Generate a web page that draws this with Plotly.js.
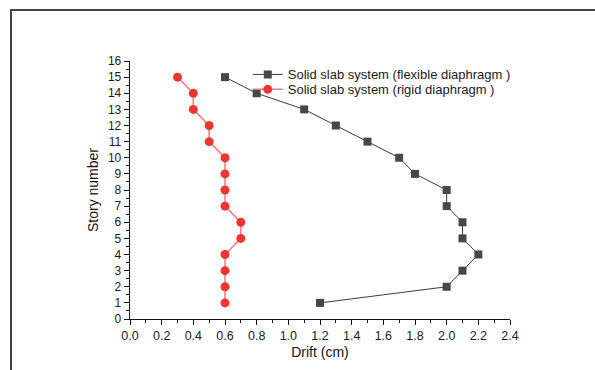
<!DOCTYPE html>
<html>
<head>
<meta charset="utf-8">
<script src="https://cdn.plot.ly/plotly-3.0.1.min.js"></script>
<style>
  html, body { margin: 0; padding: 0; background: #fff; }
  #wrap { position: relative; width: 595px; height: 370px; }
  #chart { width: 595px; height: 370px; }
  #frame { position: absolute; left: 10px; top: 9px; right: -5px; bottom: -5px;
           border-top: 2px solid #444; border-left: 2px solid #444; pointer-events: none; }
</style>
</head>
<body>
<div id="wrap">
  <div id="chart"></div>
  <div id="frame"></div>
</div>
<script>
const stories = [15, 14, 13, 12, 11, 10, 9, 8, 7, 6, 5, 4, 3, 2, 1];
const flexibleDrift = [0.6, 0.8, 1.1, 1.3, 1.5, 1.7, 1.8, 2.0, 2.0, 2.1, 2.1, 2.2, 2.1, 2.0, 1.2];
const rigidDrift = [0.3, 0.4, 0.4, 0.5, 0.5, 0.6, 0.6, 0.6, 0.6, 0.7, 0.7, 0.6, 0.6, 0.6, 0.6];
const seriesNames = ['Solid slab system (flexible diaphragm )', 'Solid slab system (rigid diaphragm )'];
const xTickVals = [0, 0.2, 0.4, 0.6, 0.8, 1.0, 1.2, 1.4, 1.6, 1.8, 2.0, 2.2, 2.4];
const xTickText = ['0.0', '0.2', '0.4', '0.6', '0.8', '1.0', '1.2', '1.4', '1.6', '1.8', '2.0', '2.2', '2.4'];
const yTickVals = [0, 1, 2, 3, 4, 5, 6, 7, 8, 9, 10, 11, 12, 13, 14, 15, 16];

const FONT = 'Liberation Sans, Arial, sans-serif';

const traces = [
  {
    x: flexibleDrift, y: stories, name: seriesNames[0], type: 'scatter', mode: 'lines+markers',
    line: { color: '#3a3a3a', width: 1 },
    marker: { symbol: 'square', size: 8, color: '#474747' },
    legend: 'legend'
  },
  {
    x: rigidDrift, y: stories, name: seriesNames[1], type: 'scatter', mode: 'lines+markers',
    line: { color: '#f07a7a', width: 1.5 },
    marker: { symbol: 'circle', size: 9, color: '#ee3535' },
    legend: 'legend2'
  }
];

const legendBase = {
  x: 0.31, xanchor: 'left', yanchor: 'top',
  bgcolor: 'rgba(0,0,0,0)', borderwidth: 0,
  font: { family: FONT, size: 13, color: '#1a1a1a' }
};

const layout = {
  width: 595, height: 370,
  margin: { l: 130, r: 85, t: 61, b: 51 },
  paper_bgcolor: '#fff', plot_bgcolor: '#fff',
  font: { family: FONT, color: '#1a1a1a', size: 12 },
  showlegend: true,
  legend: Object.assign({}, legendBase, { y: 1.006 }),
  legend2: Object.assign({}, legendBase, { y: 0.948 }),
  xaxis: {
    range: [0, 2.4], tickvals: xTickVals, ticktext: xTickText,
    showgrid: false, zeroline: false, showline: true, linecolor: '#111', linewidth: 1.3,
    ticks: 'outside', ticklen: 5, tickcolor: '#111', tickwidth: 1,
    minor: { dtick: 0.1, ticks: 'outside', ticklen: 3, tickcolor: '#111', showgrid: false },
    tickfont: { family: FONT, size: 12.5, color: '#1a1a1a' },
    title: { text: 'Drift (cm)', font: { family: FONT, size: 14, color: '#111' }, standoff: 5 }
  },
  yaxis: {
    range: [0, 16], tickvals: yTickVals,
    showgrid: false, zeroline: false, showline: true, linecolor: '#111', linewidth: 1.3,
    ticks: 'outside', ticklen: 5, tickcolor: '#111', tickwidth: 1,
    minor: { dtick: 0.5, ticks: 'outside', ticklen: 3, tickcolor: '#111', showgrid: false },
    tickfont: { family: FONT, size: 12, color: '#1a1a1a' },
    title: { text: 'Story number', font: { family: FONT, size: 14, color: '#111' }, standoff: 6 }
  },
  xaxis2: {
    overlaying: 'x', side: 'top', range: [0, 10], tickvals: [0,1,2,3,4,5,6,7,8,9,10],
    showticklabels: false, showgrid: false, zeroline: false, showline: true,
    linecolor: '#111', linewidth: 1.3, ticks: 'inside', ticklen: 4, tickcolor: '#111'
  },
  yaxis2: {
    overlaying: 'y', side: 'right', range: [0, 10], tickvals: [0,1,2,3,4,5,6,7,8,9,10],
    showticklabels: false, showgrid: false, zeroline: false, showline: true,
    linecolor: '#111', linewidth: 1.3, ticks: 'inside', ticklen: 4, tickcolor: '#111'
  }
};

Plotly.newPlot('chart', traces, layout, { staticPlot: true, displayModeBar: false });
</script>
</body>
</html>
